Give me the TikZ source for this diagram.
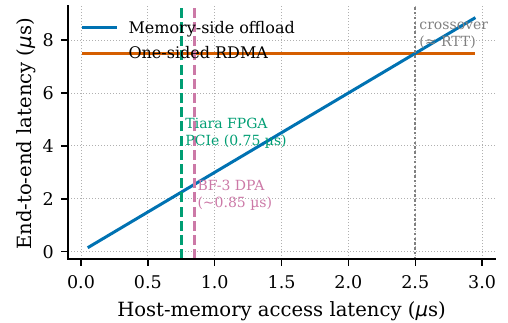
\documentclass[tikz,border=0pt]{standalone}
\usepackage{fontspec}
\setmainfont{DejaVu Serif}
\newfontfamily\dvsans{DejaVu Sans}
\definecolor{cblue}{HTML}{0072B2}
\definecolor{corange}{HTML}{D55E00}
\definecolor{cgreen}{HTML}{009E73}
\definecolor{cpink}{HTML}{CC79A7}
\definecolor{cgray}{HTML}{808080}
\definecolor{cgrid}{HTML}{B0B0B0}
\tikzset{
  gridline/.style={cgrid, line width=1pt, dash pattern=on 1pt off 2pt},
  spine/.style={black, line width=1.6pt, line cap=rect},
  tickmark/.style={black, line width=1.4pt},
  ticklab/.style={inner sep=0pt, font=\fontsize{17.5}{20}\selectfont},
  axlab/.style={inner sep=0pt, font=\fontsize{19.6}{23}\selectfont},
  leglab/.style={inner sep=0pt, anchor=base west, font=\fontsize{16}{19}\selectfont},
  annot/.style={inner sep=0pt, anchor=base west, font=\fontsize{14}{16}\selectfont},
  dataline/.style={line width=3pt},
  vdash/.style={line width=2.6pt, dash pattern=on 10pt off 4.2pt},
  vdot/.style={cgray, line width=2.4pt, dash pattern=on 2.4pt off 2.4pt},
}
\newcommand{\mumath}{{\dvsans\itshape μ}}
\begin{document}
\begin{tikzpicture}[x=1pt,y=1pt]
\useasboundingbox (0,0) rectangle (508,322);
\begin{scope}[shift={(81,70.3)}, x=133.7pt, y=26.45pt]
  % axes corners
  \coordinate (ll) at (-0.095,-0.285);
  \coordinate (lr) at (3.095,-0.285);
  \coordinate (ul) at (-0.095,9.285);
  % grid
  \foreach \gx in {0,0.5,1,1.5,2,2.5,3}
    \draw[gridline] (\gx,-0.285) -- (\gx,9.285);
  \foreach \gy in {0,2,4,6,8}
    \draw[gridline] (-0.095,\gy) -- (3.095,\gy);
  % data lines
  \coordinate (o1) at (0.05,7.5);
  \coordinate (o2) at (2.95,7.5);
  \coordinate (b1) at (0.05,0.15);
  \coordinate (b2) at (2.95,8.85);
  \draw[dataline, corange] (o1) -- (o2);
  \draw[dataline, cblue] (b1) -- (b2);
  % vertical markers
  \coordinate (g1) at (0.75,-0.285); \coordinate (g2) at (0.75,9.285);
  \coordinate (p1) at (0.85,-0.285); \coordinate (p2) at (0.85,9.285);
  \coordinate (c1) at (2.5,-0.285);  \coordinate (c2) at (2.5,9.285);
  \draw[vdash, cgreen] (g1) -- (g2);
  \draw[vdash, cpink] (p1) -- (p2);
  \draw[vdot] (c1) -- (c2);
  % spines
  \draw[spine] (ul) -- (ll) -- (lr);
  % ticks and labels
  \foreach \gx/\lab [count=\i] in {0/0.0,0.5/0.5,1/1.0,1.5/1.5,2/2.0,2.5/2.5,3/3.0}{
    \draw[tickmark] (\gx,-0.285) -- ++(0,-7pt);
    \node[ticklab, anchor=base, yshift=-29.5pt] (xt\i) at (\gx,-0.285) {\lab};
  }
  \foreach \gy [count=\i] in {0,2,4,6,8}{
    \draw[tickmark] (-0.095,\gy) -- ++(-7pt,0);
    \node[ticklab, anchor=base east, xshift=-14.3pt, yshift=-6.3pt] (yt\i) at (-0.095,\gy) {\gy};
  }
  % annotations
  \node[annot, text=cgreen] (tiara1) at (0.78,0) [yshift=193.7pt-70.3pt] {Tiara FPGA};
  \node[annot, text=cgreen] (tiara2) at (0.78,0) [yshift=177pt-70.3pt] {PCIe (0.75 µs)};
  \node[annot, text=cpink] (bf1) at (0.87,0) [yshift=131.7pt-70.3pt] {BF-3 DPA};
  \node[annot, text=cpink] (bf2) at (0.87,0) [yshift=115pt-70.3pt] {(∼0.85 µs)};
  \node[annot, text=cgray] (cr1) at (2.53,0) [yshift=292.7pt-70.3pt] {crossover};
  \node[annot, text=cgray] (cr2) at (2.53,0) [yshift=275.3pt-70.3pt] {(≈ RTT)};
\end{scope}
% legend
\coordinate (lb1) at (82,294);
\coordinate (lb2) at (117,294);
\draw[dataline, cblue] (lb1) -- (lb2);
\coordinate (lo1) at (82,268.7);
\coordinate (lo2) at (117,268.7);
\draw[dataline, corange] (lo1) -- (lo2);
\node[leglab] (leg1) at (128.3,288.7) {Memory-side offload};
\node[leglab] (leg2) at (128.3,263.7) {One-sided RDMA};
% axis labels
\node[axlab, anchor=base] (xlab) at (281.5,6) {Host-memory access latency (\mumath s)};
\node[axlab, anchor=base, rotate=90] (ylab) at (31,188) {End-to-end latency (\mumath s)};
\end{tikzpicture}
\end{document}
